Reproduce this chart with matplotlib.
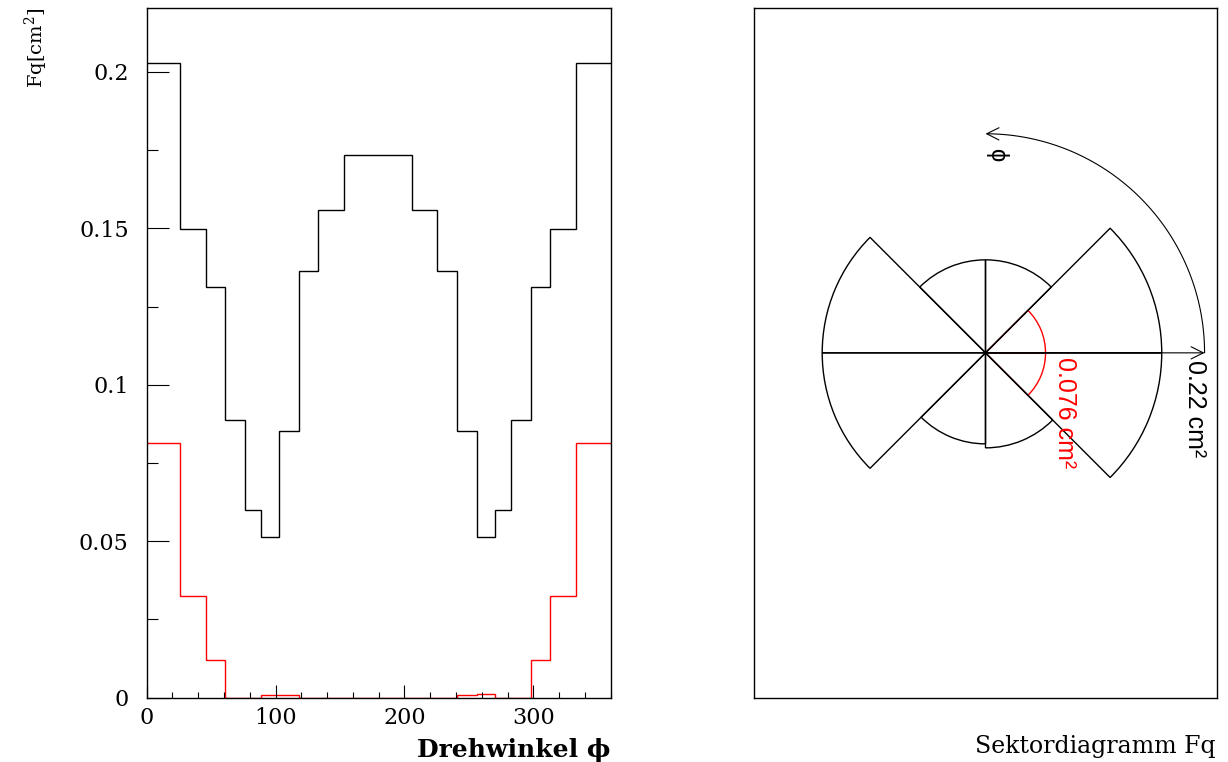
import numpy as np
import matplotlib
matplotlib.use("Agg")
import matplotlib.pyplot as plt
from matplotlib.patches import Wedge, FancyArrowPatch
from matplotlib.path import Path

plt.rcParams["mathtext.fontset"] = "dejavuserif"

# histogram: bin edges in degrees and Fq per bin
bin_edges = [0, 26, 46, 61, 76, 89, 103, 118, 133, 153, 206, 225.5, 240.5,
             256, 270, 283, 298, 312.7, 333, 360]
fq_black = [0.2029, 0.1497, 0.1311, 0.0889, 0.0600, 0.0514, 0.0853, 0.1363,
            0.1560, 0.1733, 0.1560, 0.1363, 0.0853, 0.0514, 0.0600, 0.0889,
            0.1311, 0.1497, 0.2029]
fq_red = [0.0815, 0.0325, 0.0120, 0.0, 0.0, 0.0009, 0.0008, 0.0, 0.0, 0.0,
          0.0, 0.0, 0.0009, 0.0011, 0.0, 0.0, 0.0120, 0.0325, 0.0815]

# sector diagram: 45 degree sectors, radius in cm^2
sector_start = [0, 45, 90, 135, 180, 225, 270, 315]
sector_black = [0.177, 0.0934, 0.0934, 0.164, 0.164, 0.0914, 0.0954, 0.177]
sector_red = [0.0603, 0.0004, 0.0004, 0.0, 0.0, 0.0004, 0.0004, 0.0603]
scale_value = 0.22
red_label_value = 0.076

W, H = 1228, 762
fig = plt.figure(figsize=(W / 100, H / 100), dpi=100)
serif = "DejaVu Serif"

# ---- left: histogram ----
ax = fig.add_axes([146.7 / W, 1 - 697.7 / H, 464 / W, 689.7 / H])
ax.stairs(fq_black, bin_edges, color="black", lw=1.0, baseline=None)
ax.stairs(fq_red, bin_edges, color="red", lw=1.0, baseline=None)
ax.set_xlim(0, 360)
ax.set_ylim(0, 0.2204)
ax.set_xticks([0, 100, 200, 300])
ax.set_xticks(np.arange(0, 361, 20), minor=True)
ax.set_yticks([0, 0.05, 0.1, 0.15, 0.2])
ax.set_yticklabels(["0", "0.05", "0.1", "0.15", "0.2"])
ax.set_yticks(np.arange(0, 0.22, 0.025), minor=True)
ax.tick_params(axis="x", which="major", direction="in", length=9.6, width=0.8, pad=7, labelsize=16)
ax.tick_params(axis="x", which="minor", direction="in", length=4.3, width=0.8)
ax.tick_params(axis="y", which="major", direction="in", length=15.6, width=0.8, pad=13, labelsize=16)
ax.tick_params(axis="y", which="minor", direction="in", length=7.7, width=0.8)
for lab in ax.get_xticklabels() + ax.get_yticklabels():
    lab.set_family(serif)
for s in ax.spines.values():
    s.set_linewidth(1.0)

fig.text(36 / W, 1 - 8 / H, "Fq[cm$^2$]", rotation=90, ha="center", va="top",
         fontsize=14, family=serif)
fig.text(610.7 / W, 1 - 756.5 / H, "Drehwinkel ϕ", ha="right", va="baseline",
         fontsize=18, family=serif, fontweight="bold")

# ---- right: sector diagram ----
ax2 = fig.add_axes([754 / W, 1 - 697.7 / H, 463 / W, 689.7 / H])
ax2.set_xlim(-0.2325, 0.2325)
ax2.set_ylim(-0.3463, 0.3463)
ax2.set_xticks([])
ax2.set_yticks([])
for s in ax2.spines.values():
    s.set_linewidth(1.0)

for a, r in zip(sector_start, sector_red):
    if r > 0:
        ax2.add_patch(Wedge((0, 0), r, a, a + 45, fill=False, ec="red", lw=1.0))
for a, r in zip(sector_start, sector_black):
    ax2.add_patch(Wedge((0, 0), r, a, a + 45, fill=False, ec="black", lw=1.0))

ax2.add_patch(FancyArrowPatch((0, 0), (scale_value, 0), arrowstyle="->",
                              mutation_scale=22, color="black", lw=0.8,
                              shrinkA=0, shrinkB=0))
theta = np.linspace(0, np.pi / 2, 120)
arc = Path(np.column_stack([scale_value * np.cos(theta), scale_value * np.sin(theta)]))
ax2.add_patch(FancyArrowPatch(path=arc, arrowstyle="->", mutation_scale=22,
                              color="black", lw=0.8, shrinkA=0, shrinkB=0))

sans = ["Liberation Sans", "DejaVu Sans"]
ax2.text(0.0116, 0.1989, "ϕ", rotation=-90, ha="center", va="center",
         fontsize=17, family=sans)
ax2.text(0.1984, -0.007, f"{scale_value:.2f} cm²", rotation=-90, ha="left",
         va="top", fontsize=18, family=sans)
ax2.text(0.0678, -0.004, f"{red_label_value:.3f} cm²", rotation=-90, ha="left",
         va="top", fontsize=18, family=sans, color="red")

fig.text(1216 / W, 1 - 752.5 / H, "Sektordiagramm Fq", ha="right", va="baseline",
         fontsize=17, family=serif)

fig.savefig("out.png", dpi=100)
